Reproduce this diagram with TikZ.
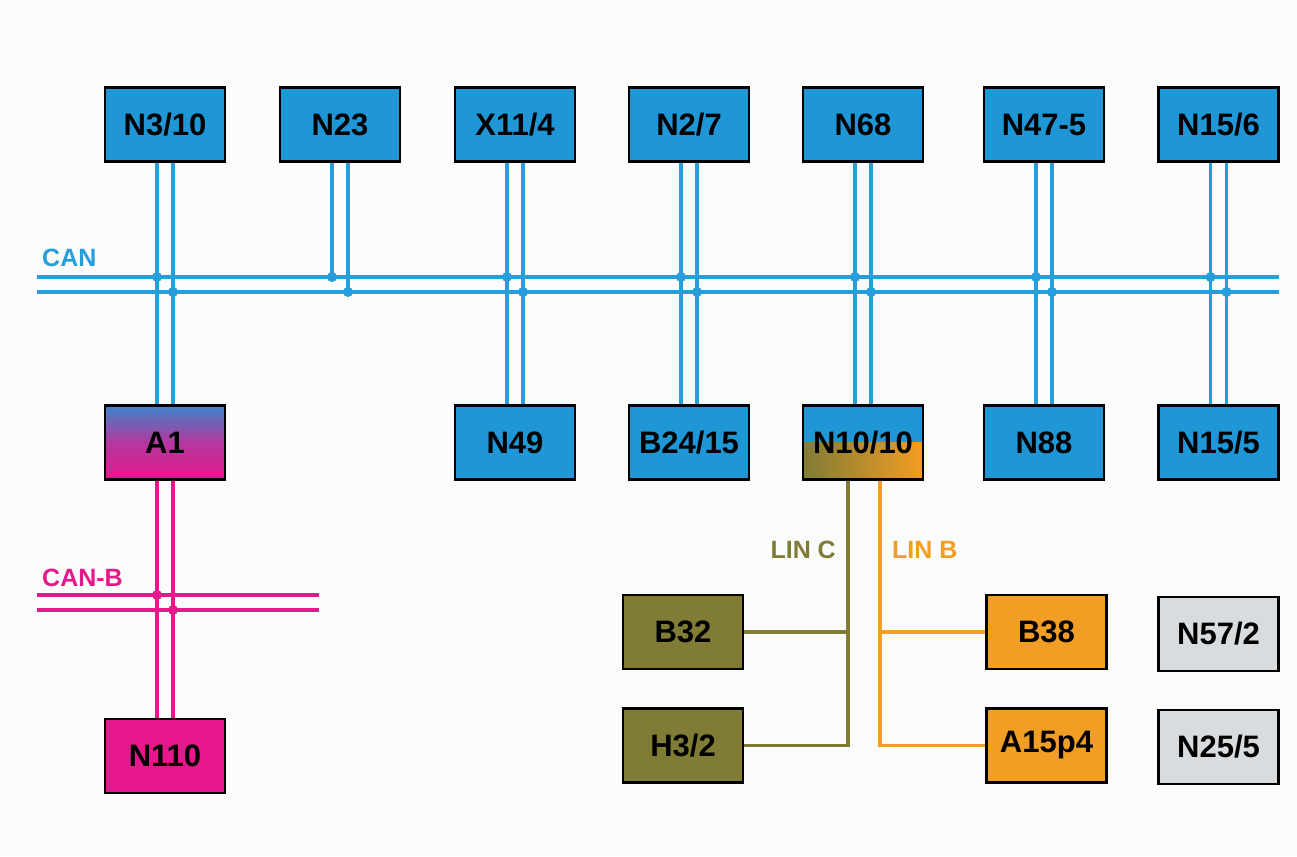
\documentclass[tikz,border=0pt]{standalone}
\usepackage{fontspec}
\setmainfont{Liberation Sans}
\usetikzlibrary{calc}
\definecolor{cblue}{RGB}{31,151,214}
\definecolor{wblue}{RGB}{38,158,220}
\definecolor{cmag}{RGB}{230,24,140}
\definecolor{colive}{RGB}{128,124,54}
\definecolor{corange}{RGB}{242,157,35}
\definecolor{cgrey}{RGB}{217,220,223}
\definecolor{bg}{RGB}{250,251,251}
\tikzset{
  box/.style={draw=black, line width=2.6pt, minimum width=120pt, minimum height=74pt, inner sep=0pt,
    font=\fontsize{31}{36}\selectfont\bfseries, text=black},
  canw/.style={draw=wblue, line width=3.6pt},
  canbw/.style={draw=cmag, line width=3.6pt},
  linc/.style={draw=colive, line width=3.6pt},
  linb/.style={draw=corange, line width=3.6pt},
  blab/.style={font=\fontsize{25}{29}\selectfont\bfseries, inner sep=0pt},
}
\begin{document}
\begin{tikzpicture}[x=1pt,y=-1pt]
\fill[bg] (0,0) rectangle (1297,856);
\useasboundingbox (0,0) rectangle (1297,856);

% top row
\node[box, fill=cblue] (n310) at (165,124.5) {N3/10};
\node[box, fill=cblue] (n23) at (340,124.5) {N23};
\node[box, fill=cblue] (x114) at (515,124.5) {X11/4};
\node[box, fill=cblue] (n27) at (689,124.5) {N2/7};
\node[box, fill=cblue] (n68) at (863,124.5) {N68};
\node[box, fill=cblue] (n475) at (1044,124.5) {N47-5};
\node[box, fill=cblue] (n156) at (1218.5,124.5) {N15/6};

% bottom row
\node[box, top color=cblue!85!cmag, bottom color=cmag, middle color=cmag!75!cblue, shading angle=0] (a1) at (165,442.5) {A1};
\node[box, fill=cblue] (n49) at (515,442.5) {N49};
\node[box, fill=cblue] (b2415) at (689,442.5) {B24/15};
\node[box, fill=cblue, path picture={\shade[left color=colive, right color=corange] (path picture bounding box.south west) rectangle (path picture bounding box.east);}] (n1010) at (863,442.5) {N10/10};
\node[box, fill=cblue] (n88) at (1044,442.5) {N88};
\node[box, fill=cblue] (n155) at (1218.5,442.5) {N15/5};

% CAN-B
\node[box, fill=cmag] (n110) at (165,756) {N110};

% LIN nodes
\node[box, fill=colive] (b32) at (683,632) {B32};
\node[box, fill=colive] (h32) at (683,745.5) {H3/2};
\node[box, fill=corange] (b38) at (1046.5,632) {B38};
\node[box, fill=corange] (a15) at (1046.5,745.5) {A15p4};
\node[box, fill=cgrey] (n572) at (1218.5,634) {N57/2};
\node[box, fill=cgrey] (n255) at (1218.5,747) {N25/5};

% CAN bus
\coordinate (canL1) at (37,277);
\coordinate (canR1) at (1279,277);
\coordinate (canL2) at (37,292);
\coordinate (canR2) at (1279,292);
\draw[canw] (canL1) -- (canR1);
\draw[canw] (canL2) -- (canR2);
\node[blab, text=wblue, anchor=west] (canlab) at (42,258) {CAN};

% vertical pairs top to bottom
\foreach \t/\b in {n310/a1, x114/n49, n27/b2415, n68/n1010, n475/n88, n156/n155}{
  \coordinate (tl) at ($(\t.south)+(-8,0)$);
  \coordinate (tr) at ($(\t.south)+(8,0)$);
  \coordinate (bl) at ($(\b.north)+(-8,0)$);
  \coordinate (br) at ($(\b.north)+(8,0)$);
  \draw[canw] (tl) -- (bl);
  \draw[canw] (tr) -- (br);
  \fill[wblue] (tl |- canL1) circle (5pt);
  \fill[wblue] (tr |- canL2) circle (5pt);
}
% N23 stub
\coordinate (sl) at ($(n23.south)+(-8,0)$);
\coordinate (sr) at ($(n23.south)+(8,0)$);
\draw[canw] (sl) -- (sl |- canL1);
\draw[canw] (sr) -- (sr |- canL2);
\fill[wblue] (sl |- canL1) circle (5pt);
\fill[wblue] (sr |- canL2) circle (5pt);

% CAN-B bus
\coordinate (cbL1) at (37,595);
\coordinate (cbR1) at (319,595);
\coordinate (cbL2) at (37,610);
\coordinate (cbR2) at (319,610);
\draw[canbw] (cbL1) -- (cbR1);
\draw[canbw] (cbL2) -- (cbR2);
\node[blab, text=cmag, anchor=west] (canblab) at (42,578) {CAN-B};
\coordinate (al) at ($(a1.south)+(-8,0)$);
\coordinate (ar) at ($(a1.south)+(8,0)$);
\draw[canbw] (al) -- (al |- n110.north);
\draw[canbw] (ar) -- (ar |- n110.north);
\fill[cmag] (al |- cbL1) circle (5pt);
\fill[cmag] (ar |- cbL2) circle (5pt);

% LIN C
\coordinate (lcx) at (848,0);
\draw[linc] (n1010.south -| lcx) |- (h32.east);
\draw[linc] (b32.east) -- (b32.east -| lcx);
\node[blab, text=colive, anchor=east] (lclab) at (836,550) {LIN C};

% LIN B
\coordinate (lbx) at (880,0);
\draw[linb] (n1010.south -| lbx) |- (a15.west);
\draw[linb] (b38.west) -- (b38.west -| lbx);
\node[blab, text=corange, anchor=west] (lblab) at (892,550) {LIN B};
\end{tikzpicture}
\end{document}
